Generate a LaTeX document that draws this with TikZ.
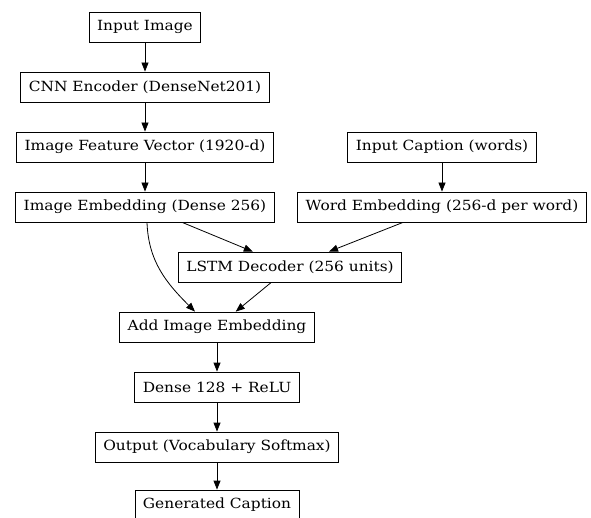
\documentclass[tikz,border=0pt]{standalone}
\usepackage{fontspec}
\setmainfont{DejaVu Serif}[FakeStretch=1.1]
\usetikzlibrary{arrows.meta}

\begin{document}
\begin{tikzpicture}[x=1pt,y=1pt,
  box/.style={draw, line width=0.8pt, minimum height=30pt, inner xsep=8pt, font=\fontsize{14}{16}\selectfont},
  flow/.style={-{Triangle[length=9pt,width=7pt]}, line width=0.8pt}]
\useasboundingbox (0,0) rectangle (591,-518);
\node [box] (img) at (145,-27) {Input Image};
\node [box] (cnn) at (145,-87) {CNN Encoder (DenseNet201)};
\node [box] (feat) at (145,-147) {Image Feature Vector (1920-d)};
\node [box] (emb) at (145,-207) {Image Embedding (Dense 256)};
\node [box] (cap) at (442,-147) {Input Caption (words)};
\node [box] (wemb) at (442,-207) {Word Embedding (256-d per word)};
\node [box] (lstm) at (290,-267) {LSTM Decoder (256 units)};
\node [box] (add) at (217,-327) {Add Image Embedding};
\node [box] (dense) at (217,-387) {Dense 128 + ReLU};
\node [box] (out) at (217,-447) {Output (Vocabulary Softmax)};
\node [box] (gen) at (217,-505) {Generated Caption};
\draw [flow] (img) -- (cnn);
\draw [flow] (cnn) -- (feat);
\draw [flow] (feat) -- (emb);
\draw [flow] (cap) -- (wemb);
\draw [flow] (emb) -- (lstm);
\draw [flow] (wemb) -- (lstm);
\draw [flow] ([xshift=2pt]emb.south) to[out=-88,in=135] ([xshift=-22pt]add.north);
\draw [flow] (lstm) -- (add);
\draw [flow] (add) -- (dense);
\draw [flow] (dense) -- (out);
\draw [flow] (out) -- (gen);
\end{tikzpicture}
\end{document}
